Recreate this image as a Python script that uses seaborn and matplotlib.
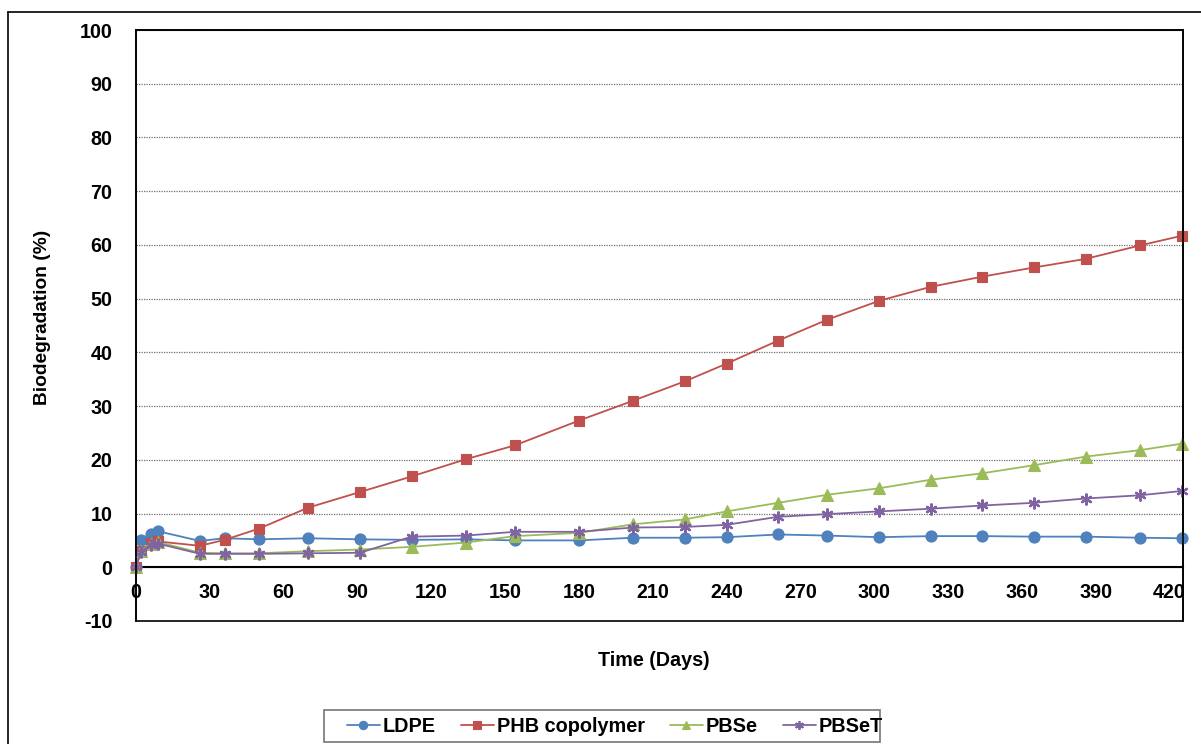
import matplotlib
matplotlib.use("Agg")
import matplotlib.pyplot as plt
import seaborn as sns
import pandas as pd
import numpy as np
from matplotlib.patches import Rectangle
from matplotlib.lines import Line2D
from matplotlib.ticker import MultipleLocator

days = [0, 2, 6, 9, 26, 36, 50, 70, 91, 112, 134, 154, 180, 202, 223, 240,
        261, 281, 302, 323, 344, 365, 386, 408, 425]
ldpe = [0, 5.1, 6.1, 6.7, 4.9, 5.4, 5.2, 5.4, 5.2, 5.1, 5.2, 5.0, 5.0, 5.5, 5.5,
        5.6, 6.1, 5.9, 5.6, 5.8, 5.8, 5.7, 5.7, 5.5, 5.4]
phb = [0, 3.0, 4.6, 4.8, 4.0, 5.1, 7.2, 11.1, 14.0, 16.9, 20.1, 22.7, 27.3, 31.0,
       34.6, 37.9, 42.2, 46.1, 49.6, 52.2, 54.1, 55.8, 57.4, 59.9, 61.7]
pbse = [0, 3.1, 4.4, 4.7, 2.7, 2.6, 2.6, 3.0, 3.3, 3.8, 4.6, 5.8, 6.4, 8.0, 8.9,
        10.4, 12.0, 13.5, 14.7, 16.3, 17.5, 19.0, 20.6, 21.8, 23.0]
pbset = [0, 2.9, 4.2, 4.4, 2.5, 2.5, 2.5, 2.6, 2.7, 5.7, 5.9, 6.6, 6.6, 7.4, 7.5,
         7.9, 9.4, 9.9, 10.4, 10.9, 11.5, 12.0, 12.8, 13.4, 14.2]

series_names = ["LDPE", "PHB copolymer", "PBSe", "PBSeT"]
series_values = [ldpe, phb, pbse, pbset]
colors = ["#4F81BD", "#C0504D", "#9BBB59", "#8064A2"]
markers = ["o", "s", "^", (6, 2, 0)]
msizes = [8, 7.8, 8, 8.5]

y_ticks = list(range(-10, 101, 10))
x_ticks = list(range(0, 421, 30))

sns.set_theme(style="white")
plt.rcParams['font.family'] = ['Liberation Sans', 'DejaVu Sans']
plt.rcParams['font.weight'] = 'bold'
plt.rcParams['axes.unicode_minus'] = False
plt.rcParams['text.color'] = 'black'
plt.rcParams['xtick.color'] = 'black'
plt.rcParams['ytick.color'] = 'black'
plt.rcParams['xtick.labelcolor'] = 'black'
plt.rcParams['ytick.labelcolor'] = 'black'

fig = plt.figure(figsize=(12.01, 7.44), dpi=100)
ax = fig.add_axes([136 / 1201, 1 - 621 / 744, (1183 - 136) / 1201, (621 - 30) / 744])

for name, vals, c, m, ms in zip(series_names, series_values, colors, markers, msizes):
    df = pd.DataFrame({"Days": days, "Value": vals})
    sns.lineplot(data=df, x="Days", y="Value", ax=ax, color=c, marker=m,
                 markersize=ms, markeredgecolor=c, markeredgewidth=1.6 if m == (6, 2, 0) else 0.8,
                 linewidth=1.3, label=name, sort=False, clip_on=False, zorder=3)

ax.set_xlim(0, 425.5)
ax.set_ylim(-10, 100)
ax.set_yticks(y_ticks)
ax.yaxis.set_minor_locator(MultipleLocator(5))
ax.set_xticks(x_ticks)
ax.xaxis.set_minor_locator(MultipleLocator(5))

ax.spines['bottom'].set_position(('data', 0))
for s in ax.spines.values():
    s.set_color('black')
    s.set_linewidth(1.2)
ax.spines['bottom'].set_linewidth(1.5)
ax.add_patch(Rectangle((0, 0), 1, 1, transform=ax.transAxes, fill=False,
                       ec='black', lw=1.2, clip_on=False, zorder=4))

ax.tick_params(axis='x', which='major', direction='in', length=6, width=1,
               color='black', pad=11, labelsize=14.2, labelcolor='black')
ax.tick_params(axis='x', which='minor', direction='in', length=4, width=0.8, color='black')
ax.tick_params(axis='y', which='major', direction='in', length=0, pad=17, labelsize=14.2,
               labelcolor='black')
ax.tick_params(axis='y', which='minor', direction='in', length=4, width=0.8, color='#555555')
for lab in ax.get_xticklabels() + ax.get_yticklabels():
    lab.set_fontweight('bold')

ax.grid(axis='y', which='major', linestyle=(0, (1, 1)), color='#6e6e6e', linewidth=0.9)
ax.grid(axis='x', visible=False)
ax.set_axisbelow(True)

ax.set_xlabel("")
ax.set_ylabel("")
fig.text(654 / 1201, 1 - 661 / 744, "Time (Days)", ha='center', va='center',
         fontsize=14.2, fontweight='bold', color='black')
fig.text(43 / 1201, 1 - 317 / 744, "Biodegradation (%)", ha='center', va='center',
         rotation=90, fontsize=13.8, fontweight='bold', color='black')

ax.get_legend().remove()
handles = [Line2D([0], [0], color=c, marker=m, markersize=ms * 0.75, markeredgecolor=c,
                  markeredgewidth=1.3 if m == (6, 2, 0) else 0.8, linewidth=1.3)
           for c, m, ms in zip(colors, markers, msizes)]
leg = fig.legend(handles, series_names, loc='center left', ncol=4,
                 bbox_to_anchor=(347 / 1201, 1 - 726 / 744),
                 prop={'weight': 'bold', 'size': 14.3}, frameon=False,
                 handlelength=1.66, handletextpad=0.15,
                 columnspacing=1.26, borderpad=0, borderaxespad=0)
for t in leg.get_texts():
    t.set_color('black')
fig.add_artist(Rectangle((324 / 1201, 1 - 742 / 744), (880 - 324) / 1201, 32 / 744,
                         transform=fig.transFigure, fill=False, ec='#808080', lw=1.3))

# outer chart frame (cut by image edge at right and bottom)
fig.add_artist(Line2D([8 / 1201, 8 / 1201], [1 - 12 / 744, -0.05], transform=fig.transFigure,
                      color='black', lw=1.2))
fig.add_artist(Line2D([8 / 1201, 1.05], [1 - 12 / 744, 1 - 12 / 744], transform=fig.transFigure,
                      color='black', lw=1.2))

fig.savefig("out.png", dpi=100)
